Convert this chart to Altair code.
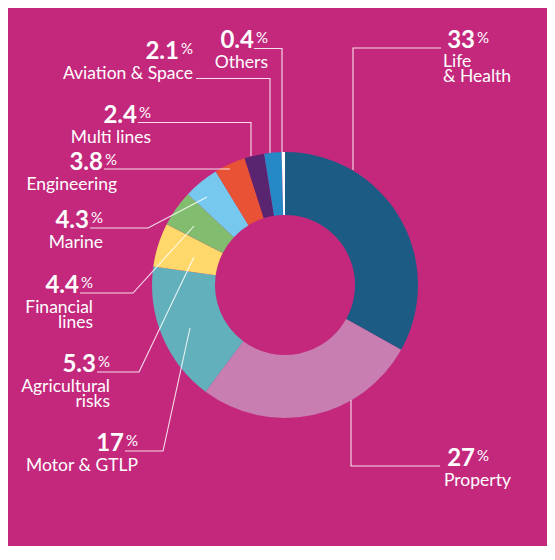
import altair as alt
import pandas as pd

# ---------------- data ----------------
categories = ["Life & Health", "Property", "Motor & GTLP", "Agricultural risks",
              "Financial lines", "Marine", "Engineering", "Multi lines",
              "Aviation & Space", "Others"]
shares = [33, 27, 17, 5.3, 4.4, 4.3, 3.8, 2.4, 2.1, 0.4]
pct_labels = ["33", "27", "17", "5.3", "4.4", "4.3", "3.8", "2.4", "2.1", "0.4"]
name_lines = [["Life", "& Health"], ["Property"], ["Motor & GTLP"],
              ["Agricultural", "risks"], ["Financial", "lines"], ["Marine"],
              ["Engineering"], ["Multi lines"], ["Aviation & Space"], ["Others"]]
colors = ["#1B5B84", "#C87EB0", "#62B0BB", "#FFD86B", "#82BD6F", "#77C8EE",
          "#E85235", "#5A2570", "#2589C6", "#FFFFFF"]

# ---------------- label layout (reference pixel space) ----------------
pct_right = [489, 489, 138, 110, 93, 103, 117, 151, 193, 268]
pct_base = [48, 466, 451, 372, 293, 228, 170, 123, 59, 48]
name_x = [443, 444, 138, 110, 93, 103, 117, 151, 193, 268]
name_align = ["left", "left", "right", "right", "right", "right", "right",
              "right", "right", "right"]
name_base = [67, 486, 471, 392, 313, 248, 190, 143, 79, 68]
leaders = [
    [(441, 48), (353, 48), (353, 170)],
    [(440, 466), (351, 466), (351, 400)],
    [(125, 451), (163, 451), (190, 328)],
    [(97, 372), (139, 372), (194, 257)],
    [(80, 293), (133, 293), (194, 226)],
    [(90, 228), (148, 228), (207, 197)],
    [(104, 169), (230, 169)],
    [(138, 122.5), (251, 122.5), (251, 156)],
    [(196, 78.5), (270, 78.5), (270, 153)],
    [(254, 48.5), (282, 48.5), (282, 152)],
]
center = (285, 285)

BG = "#C3287D"
FONT = "Lato"
W, H = 539, 538

xs = alt.Scale(domain=[8, 8 + W], nice=False, zero=False)
ys = alt.Scale(domain=[8, 8 + H], nice=False, zero=False, reverse=True)

slices = pd.DataFrame({"cat": categories, "value": shares,
                       "idx": list(range(len(categories)))})

donut = alt.Chart(slices).mark_arc(radius=133, radius2=70).encode(
    theta=alt.Theta("value:Q", stack=True),
    order=alt.Order("idx:Q"),
    color=alt.Color("cat:N", scale=alt.Scale(domain=categories, range=colors),
                    legend=None),
    x=alt.datum(center[0], scale=xs, axis=None),
    y=alt.datum(center[1], scale=ys, axis=None),
)

lrows = []
for i, pts in enumerate(leaders):
    for j, (px, py) in enumerate(pts):
        lrows.append({"g": i, "o": j, "x": px, "y": py})
lines = alt.Chart(pd.DataFrame(lrows)).mark_line(
    color="white", strokeWidth=1.1, opacity=0.85
).encode(
    x=alt.X("x:Q", scale=xs, axis=None),
    y=alt.Y("y:Q", scale=ys, axis=None),
    detail="g:N",
    order="o:Q",
)

num_df = pd.DataFrame({"t": pct_labels,
                       "x": [r - 14 for r in pct_right],
                       "y": pct_base})
nums = alt.Chart(num_df).mark_text(
    font=FONT, fontSize=24, fontWeight="bold", color="white",
    align="right", baseline="alphabetic"
).encode(x=alt.X("x:Q", scale=xs, axis=None),
         y=alt.Y("y:Q", scale=ys, axis=None), text="t:N")

pc_df = pd.DataFrame({"t": ["%"] * len(pct_right), "x": pct_right,
                      "y": [b - 5 for b in pct_base]})
pcs = alt.Chart(pc_df).mark_text(
    font=FONT, fontSize=15, color="white", align="right", baseline="alphabetic"
).encode(x=alt.X("x:Q", scale=xs, axis=None),
         y=alt.Y("y:Q", scale=ys, axis=None), text="t:N")

ndf = pd.DataFrame({"t": ["\n".join(nl) for nl in name_lines],
                    "x": name_x, "y": name_base, "a": name_align})
name_layers = []
for a in ["left", "right"]:
    name_layers.append(
        alt.Chart(ndf[ndf["a"] == a]).mark_text(
            font=FONT, fontSize=17.5, color="white", align=a,
            baseline="alphabetic", lineBreak="\n", lineHeight=15
        ).encode(x=alt.X("x:Q", scale=xs, axis=None),
                 y=alt.Y("y:Q", scale=ys, axis=None), text="t:N")
    )

chart = alt.layer(donut, lines, nums, pcs, *name_layers).properties(
    width=W, height=H, background=BG, padding=0,
    autosize=alt.AutoSizeParams(type="none"),
).configure_view(stroke=None)

chart.save("out.html", embed_options={"renderer": "svg", "actions": False})
